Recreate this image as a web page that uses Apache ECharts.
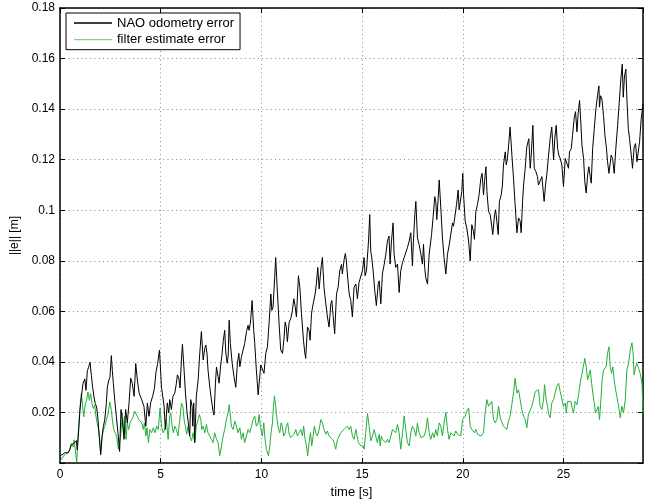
<!DOCTYPE html>
<html>
<head>
<meta charset="utf-8">
<script src="https://cdn.jsdelivr.net/npm/echarts@6/dist/echarts.min.js"></script>
<style>html,body{margin:0;padding:0;background:#fff}#c{width:651px;height:504px}</style>
</head>
<body>
<div id="c"></div>
<script>
// ---- data ----
var seriesNames = ['NAO odometry error', 'filter estimate error'];
var xTicks = [0, 5, 10, 15, 20, 25];
var yTicks = [0.02, 0.04, 0.06, 0.08, 0.1, 0.12, 0.14, 0.16, 0.18];

var naoTime = [0.00,0.10,0.26,0.35,0.40,0.48,0.56,0.65,0.73,0.81,0.86,0.93,0.99,1.06,1.14,1.23,1.29,1.36,1.42,1.49,1.56,1.62,1.69,1.75,1.82,1.89,1.95,2.02,2.09,2.15,2.22,2.30,2.35,2.42,2.48,2.55,2.60,2.65,2.72,2.80,2.88,2.96,
3.03,3.11,3.18,3.26,3.34,3.43,3.51,3.59,3.68,3.76,3.84,3.93,4.06,4.17,4.26,4.34,4.42,4.50,4.60,4.69,4.77,4.85,4.94,
5.04,5.17,5.23,5.33,5.40,5.45,5.53,5.61,5.70,5.78,5.83,5.90,5.96,6.03,6.08,6.16,6.23,6.31,6.39,6.44,6.49,6.56,6.59,6.64,6.69,6.77,6.86,6.94,7.02,7.11,7.19,7.24,7.30,7.35,7.44,7.52,7.60,7.65,7.72,7.77,7.85,7.90,7.97,8.05,8.11,8.18,8.23,8.30,8.35,8.40,8.46,8.55,8.64,8.73,8.81,8.88,8.93,9.01,9.09,9.17,9.26,9.34,9.39,9.46,9.54,9.62,9.67,9.75,9.84,
9.97,10.05,10.13,10.22,10.30,10.38,10.47,10.52,10.58,10.66,10.71,10.80,10.88,10.96,11.05,11.13,11.18,11.24,11.29,11.38,11.46,11.54,11.61,11.67,11.74,11.84,11.91,11.99,12.09,12.15,12.20,12.29,12.37,12.42,12.49,12.54,12.58,12.67,12.73,12.80,12.87,12.92,12.98,13.03,13.11,13.20,13.28,13.36,13.45,13.50,13.56,13.64,13.73,13.81,13.89,13.98,14.02,14.11,14.17,14.22,14.27,14.36,14.44,14.52,14.60,14.69,14.77,14.85,
14.94,15.02,15.10,15.15,15.22,15.32,15.38,15.43,15.48,15.55,15.63,15.71,15.80,15.85,15.93,16.01,16.10,16.18,16.26,16.34,16.39,16.46,16.54,16.59,16.67,16.76,16.84,16.92,17.01,17.09,17.17,17.25,17.34,17.42,17.50,17.55,17.62,17.67,17.75,17.83,17.92,18.00,18.05,18.11,18.16,18.25,18.33,18.38,18.45,18.53,18.61,18.66,18.71,18.78,18.83,18.91,18.99,19.07,19.16,19.24,19.32,19.41,19.49,19.54,19.60,19.69,19.77,19.82,19.89,19.95,20.00,
20.04,20.12,20.20,20.29,20.37,20.45,20.53,20.58,20.65,20.73,20.81,20.90,20.96,21.03,21.08,21.15,21.20,21.28,21.36,21.44,21.49,21.58,21.63,21.69,21.76,21.82,21.91,21.97,22.02,22.11,22.16,22.22,22.29,22.35,22.44,22.52,22.60,22.69,22.77,22.85,22.90,22.97,23.02,23.10,23.18,23.23,23.28,23.35,23.40,23.48,23.55,23.63,23.71,23.76,23.84,23.93,23.98,24.04,24.11,24.18,24.26,24.34,24.42,24.51,24.57,24.64,24.71,24.77,24.84,24.92,25.00,
25.09,25.17,25.25,25.30,25.39,25.45,25.53,25.60,25.67,25.73,25.80,25.87,25.92,26.00,26.06,26.13,26.20,26.26,26.33,26.38,26.45,26.53,26.61,26.69,26.76,26.79,26.84,26.91,26.99,27.06,27.12,27.19,27.26,27.32,27.37,27.44,27.52,27.60,27.69,27.77,27.85,27.92,27.97,28.03,28.10,28.15,28.22,28.28,28.35,28.43,28.51,28.58,28.65,28.71,28.78,28.86,28.95];
var naoErr = [0.0029,0.0033,0.0042,0.0046,0.0040,0.0052,0.0072,0.0078,0.0081,0.0089,0.0052,0.0131,0.0209,0.0261,0.0314,0.0333,0.0288,0.0366,0.0379,0.0399,0.0346,0.0300,0.0261,0.0235,0.0222,0.0170,0.0105,0.0033,0.0105,0.0144,0.0170,0.0235,0.0300,0.0327,0.0340,0.0425,0.0366,0.0314,0.0248,0.0183,0.0118,0.0046,
0.0212,0.0159,0.0094,0.0212,0.0159,0.0238,0.0336,0.0316,0.0264,0.0394,0.0329,0.0277,0.0250,0.0224,0.0146,0.0238,0.0185,0.0238,0.0264,0.0296,0.0362,0.0394,0.0447,
0.0300,0.0225,0.0133,0.0238,0.0198,0.0251,0.0212,0.0264,0.0277,0.0316,0.0349,0.0336,0.0297,0.0408,0.0470,0.0369,0.0277,0.0199,0.0146,0.0107,0.0251,0.0225,0.0146,0.0238,0.0081,0.0264,0.0330,0.0434,0.0520,0.0408,0.0454,0.0467,0.0434,0.0369,0.0300,0.0250,0.0205,0.0190,0.0316,0.0380,0.0342,0.0316,0.0380,0.0434,0.0486,0.0525,0.0440,0.0395,0.0421,0.0565,0.0473,0.0395,0.0342,0.0300,0.0395,0.0434,0.0381,0.0421,0.0428,0.0473,0.0520,0.0545,0.0525,0.0558,0.0643,0.0525,0.0473,0.0369,0.0270,
0.0388,0.0394,0.0355,0.0434,0.0460,0.0551,0.0669,0.0604,0.0617,0.0734,0.0813,0.0669,0.0551,0.0447,0.0434,0.0499,0.0558,0.0538,0.0480,0.0558,0.0571,0.0604,0.0650,0.0624,0.0578,0.0741,0.0695,0.0591,0.0486,0.0440,0.0414,0.0538,0.0525,0.0486,0.0591,0.0617,0.0624,0.0669,0.0708,0.0774,0.0689,0.0735,0.0786,0.0813,0.0695,0.0630,0.0578,0.0538,0.0630,0.0643,0.0584,0.0512,0.0669,0.0695,0.0760,0.0786,0.0748,0.0806,0.0829,0.0800,0.0748,0.0669,0.0643,0.0578,0.0695,0.0708,0.0650,0.0715,
0.0708,0.0761,0.0813,0.0741,0.0761,0.0878,0.0983,0.0839,0.0813,0.0761,0.0682,0.0623,0.0708,0.0721,0.0630,0.0748,0.0787,0.0826,0.0878,0.0898,0.0787,0.0878,0.0950,0.0826,0.0774,0.0787,0.0675,0.0761,0.0794,0.0813,0.0813,0.0852,0.0878,0.0911,0.0780,0.0878,0.0983,0.1035,0.0891,0.0865,0.0826,0.0787,0.0865,0.0774,0.0734,0.0708,0.0826,0.0832,0.0904,0.0976,0.1054,0.1035,0.0963,0.1048,0.1120,0.1009,0.0891,0.0813,0.0748,0.0826,0.0859,0.0859,0.0950,0.0937,0.0970,0.1022,0.1080,0.1002,0.0996,0.1074,0.1146,
0.1061,0.0957,0.0930,0.0878,0.0800,0.0943,0.0917,0.0885,0.0996,0.1022,0.1061,0.1127,0.1146,0.1061,0.1113,0.1172,0.1074,0.0996,0.0983,0.0937,0.0904,0.0983,0.1002,0.0957,0.0904,0.1035,0.1061,0.1100,0.1179,0.1231,0.1179,0.1205,0.1270,0.1329,0.1218,0.1127,0.1022,0.0911,0.0970,0.0957,0.0911,0.1035,0.1100,0.1166,0.1251,0.1244,0.1283,0.1166,0.1218,0.1336,0.1166,0.1153,0.1133,0.1100,0.1107,0.1133,0.1088,0.1035,0.1100,0.1146,0.1218,0.1283,0.1329,0.1199,0.1283,0.1336,0.1244,0.1218,0.1205,0.1179,0.1094,
0.1205,0.1212,0.1166,0.1231,0.1244,0.1296,0.1362,0.1390,0.1310,0.1382,0.1434,0.1336,0.1257,0.1205,0.1113,0.1068,0.1140,0.1172,0.1133,0.1107,0.1244,0.1323,0.1401,0.1453,0.1492,0.1408,0.1453,0.1440,0.1375,0.1296,0.1257,0.1192,0.1146,0.1140,0.1218,0.1205,0.1146,0.1244,0.1336,0.1427,0.1519,0.1578,0.1447,0.1531,0.1558,0.1440,0.1323,0.1284,0.1231,0.1166,0.1250,0.1264,0.1192,0.1199,0.1271,0.1362,0.1420];

var filtTime = [0.00,0.10,0.23,0.36,0.48,0.56,0.65,0.70,0.76,0.83,0.89,0.96,1.01,1.06,1.11,1.18,1.26,1.32,1.39,1.46,1.52,1.59,1.66,1.72,1.79,1.85,1.92,1.97,2.02,2.09,2.15,2.22,2.30,2.39,2.47,2.55,2.62,2.68,2.75,2.81,2.90,
3.01,3.10,3.15,3.21,3.28,3.34,3.41,3.48,3.56,3.64,3.71,3.78,3.84,3.91,3.97,4.06,4.14,4.19,4.26,4.32,4.39,4.47,4.55,4.64,4.72,4.80,4.88,4.97,
5.04,5.12,5.20,5.28,5.37,5.45,5.50,5.57,5.63,5.70,5.78,5.86,5.95,6.03,6.10,6.16,6.23,6.29,6.36,6.44,6.53,6.61,6.69,6.77,6.86,6.92,6.99,7.04,7.11,7.19,7.27,7.35,7.44,7.52,7.60,7.68,7.77,7.85,7.93,8.02,8.10,8.18,8.26,8.35,8.40,8.45,8.51,8.60,8.68,8.76,8.84,8.93,9.01,9.09,9.17,9.26,9.34,9.42,9.51,9.59,9.67,9.75,9.84,9.89,9.95,
10.05,10.12,10.18,10.25,10.35,10.42,10.48,10.55,10.60,10.65,10.71,10.78,10.85,10.91,10.98,11.04,11.11,11.18,11.24,11.31,11.38,11.46,11.54,11.62,11.71,11.79,11.87,11.96,12.04,12.10,12.17,12.24,12.30,12.37,12.44,12.50,12.57,12.63,12.70,12.78,12.87,12.95,13.03,13.11,13.20,13.28,13.36,13.45,13.53,13.61,13.69,13.78,13.86,13.94,14.02,14.11,14.19,14.27,14.36,14.44,14.52,14.60,14.69,14.75,14.82,14.94,15.05,
15.10,15.18,15.27,15.35,15.43,15.52,15.60,15.68,15.76,15.85,15.90,15.96,16.01,16.10,16.18,16.26,16.34,16.43,16.51,16.59,16.67,16.76,16.84,16.92,17.01,17.09,17.17,17.25,17.34,17.42,17.50,17.59,17.67,17.75,17.83,17.92,18.00,18.08,18.16,18.25,18.33,18.41,18.50,18.58,18.66,18.74,18.83,18.91,18.99,19.07,19.16,19.24,19.32,19.41,19.49,19.57,19.65,19.74,19.82,19.90,19.99,
20.04,20.12,20.20,20.29,20.37,20.45,20.53,20.58,20.65,20.73,20.81,20.90,20.96,21.03,21.11,21.20,21.28,21.36,21.44,21.53,21.61,21.69,21.78,21.86,21.94,22.02,22.11,22.19,22.27,22.35,22.44,22.52,22.60,22.69,22.77,22.85,22.93,23.02,23.10,23.18,23.26,23.35,23.43,23.51,23.60,23.68,23.76,23.84,23.93,24.01,24.06,24.14,24.21,24.27,24.34,24.42,24.51,24.59,24.67,24.76,24.84,24.92,25.00,
25.09,25.14,25.20,25.29,25.37,25.45,25.50,25.58,25.67,25.75,25.83,25.92,26.00,26.06,26.13,26.20,26.26,26.33,26.40,26.46,26.53,26.59,26.66,26.73,26.79,26.86,26.92,26.99,27.06,27.12,27.19,27.26,27.32,27.39,27.45,27.52,27.59,27.65,27.74,27.82,27.90,27.98,28.07,28.15,28.23,28.32,28.40,28.46,28.51,28.58,28.65,28.73,28.81,28.90,28.95];
var filtErr = [0.0007,0.0020,0.0033,0.0039,0.0052,0.0078,0.0065,0.0092,0.0052,0.0003,0.0105,0.0183,0.0235,0.0275,0.0281,0.0183,0.0235,0.0248,0.0281,0.0248,0.0275,0.0235,0.0216,0.0229,0.0183,0.0157,0.0131,0.0092,0.0039,0.0105,0.0131,0.0144,0.0170,0.0196,0.0242,0.0209,0.0157,0.0131,0.0118,0.0105,0.0055,
0.0107,0.0199,0.0120,0.0185,0.0094,0.0159,0.0133,0.0159,0.0172,0.0185,0.0205,0.0199,0.0185,0.0172,0.0179,0.0159,0.0133,0.0159,0.0107,0.0140,0.0081,0.0133,0.0120,0.0140,0.0120,0.0146,0.0133,0.0218,
0.0146,0.0120,0.0133,0.0173,0.0094,0.0186,0.0199,0.0146,0.0120,0.0146,0.0133,0.0107,0.0173,0.0238,0.0225,0.0173,0.0146,0.0114,0.0146,0.0107,0.0088,0.0120,0.0081,0.0146,0.0173,0.0192,0.0173,0.0133,0.0146,0.0120,0.0153,0.0120,0.0114,0.0094,0.0081,0.0120,0.0094,0.0081,0.0029,0.0068,0.0107,0.0133,0.0173,0.0199,0.0231,0.0199,0.0146,0.0133,0.0166,0.0146,0.0120,0.0140,0.0094,0.0120,0.0081,0.0107,0.0133,0.0120,0.0146,0.0173,0.0186,0.0146,0.0159,0.0192,0.0146,
0.0107,0.0159,0.0094,0.0055,0.0029,0.0068,0.0120,0.0159,0.0225,0.0266,0.0225,0.0172,0.0133,0.0120,0.0159,0.0146,0.0107,0.0120,0.0146,0.0159,0.0114,0.0101,0.0107,0.0114,0.0133,0.0107,0.0120,0.0133,0.0107,0.0146,0.0094,0.0068,0.0029,0.0081,0.0120,0.0068,0.0107,0.0146,0.0120,0.0107,0.0133,0.0172,0.0159,0.0133,0.0114,0.0127,0.0107,0.0114,0.0094,0.0081,0.0055,0.0094,0.0107,0.0120,0.0114,0.0133,0.0140,0.0146,0.0133,0.0146,0.0107,0.0094,0.0133,0.0140,0.0081,0.0068,0.0068,
0.0055,0.0120,0.0196,0.0146,0.0088,0.0107,0.0133,0.0107,0.0081,0.0114,0.0068,0.0107,0.0094,0.0101,0.0081,0.0094,0.0081,0.0107,0.0133,0.0140,0.0120,0.0153,0.0120,0.0055,0.0120,0.0186,0.0133,0.0081,0.0068,0.0120,0.0146,0.0133,0.0107,0.0159,0.0120,0.0101,0.0094,0.0107,0.0127,0.0179,0.0120,0.0094,0.0120,0.0101,0.0133,0.0107,0.0159,0.0146,0.0107,0.0159,0.0201,0.0133,0.0094,0.0120,0.0120,0.0107,0.0127,0.0114,0.0120,0.0107,0.0172,
0.0179,0.0185,0.0205,0.0218,0.0146,0.0133,0.0140,0.0120,0.0133,0.0114,0.0114,0.0107,0.0107,0.0120,0.0199,0.0251,0.0225,0.0231,0.0244,0.0172,0.0159,0.0172,0.0225,0.0179,0.0172,0.0146,0.0146,0.0133,0.0166,0.0185,0.0192,0.0277,0.0336,0.0277,0.0290,0.0251,0.0212,0.0185,0.0172,0.0140,0.0192,0.0199,0.0225,0.0251,0.0283,0.0283,0.0290,0.0225,0.0212,0.0251,0.0310,0.0251,0.0225,0.0192,0.0179,0.0238,0.0251,0.0277,0.0303,0.0316,0.0283,0.0277,0.0224,
0.0237,0.0198,0.0244,0.0251,0.0244,0.0211,0.0198,0.0244,0.0231,0.0270,0.0316,0.0323,0.0388,0.0414,0.0381,0.0329,0.0336,0.0368,0.0316,0.0277,0.0238,0.0198,0.0192,0.0224,0.0172,0.0251,0.0329,0.0368,0.0362,0.0381,0.0434,0.0460,0.0381,0.0355,0.0381,0.0329,0.0290,0.0264,0.0225,0.0179,0.0225,0.0198,0.0251,0.0368,0.0394,0.0447,0.0476,0.0434,0.0349,0.0381,0.0394,0.0375,0.0355,0.0316,0.0198];

function zip(xs, ys) { var out = []; for (var i = 0; i < xs.length && i < ys.length; i++) out.push([xs[i], ys[i]]); return out; }

var X_MAX = 28.95, Y_MAX = 0.18;
var FONT = 'Liberation Sans, Arial, Helvetica, sans-serif';
var NAO_COLOR = '#000000', FILT_COLOR = '#22b03a';
var gridLine = { show: true, lineStyle: { color: '#8a8a8a', width: 1, type: [1, 3.3] } };
var frameLine = { show: true, onZero: false, lineStyle: { color: '#000', width: 1.5 } };
var tickIn = { show: true, inside: true, length: 5, lineStyle: { color: '#000', width: 1 } };

var chart = echarts.init(document.getElementById('c'), null, { renderer: 'canvas' });
chart.setOption({
  animation: false,
  backgroundColor: '#fff',
  textStyle: { fontFamily: FONT },
  grid: { left: 60, right: 8, top: 8, bottom: 37, containLabel: false },
  legend: {
    show: true,
    data: [
      { name: seriesNames[0], icon: 'rect', itemStyle: { color: NAO_COLOR } },
      { name: seriesNames[1], icon: 'rect', itemStyle: { color: '#7fd48e' } }
    ],
    orient: 'vertical',
    left: 66, top: 13,
    padding: [3, 6, 3, 8],
    itemWidth: 38, itemHeight: 1.3, itemGap: 2.7,
    borderColor: '#000', borderWidth: 1,
    backgroundColor: '#fff',
    textStyle: { fontSize: 13, color: '#000', fontFamily: FONT, lineHeight: 14 },
    selectedMode: false
  },
  xAxis: [{
    type: 'value', min: 0, max: X_MAX, interval: 5,
    name: 'time [s]', nameLocation: 'middle', nameGap: 20,
    nameTextStyle: { fontSize: 13, color: '#000', fontFamily: FONT },
    axisLine: frameLine, axisTick: tickIn, splitLine: gridLine,
    axisLabel: { color: '#000', fontSize: 12, margin: 6, showMaxLabel: false,
      formatter: function (v) { return xTicks.indexOf(Math.round(v * 100) / 100) >= 0 ? String(v) : ''; } }
  }, {
    type: 'value', min: 0, max: X_MAX, interval: 5, position: 'top',
    axisLine: frameLine, axisTick: tickIn, splitLine: { show: false }, axisLabel: { show: false }
  }],
  yAxis: [{
    type: 'value', min: 0, max: Y_MAX, interval: 0.02,
    name: '||e|| [m]', nameLocation: 'middle', nameGap: 38, nameRotate: 90,
    nameTextStyle: { fontSize: 12, color: '#000', fontFamily: FONT },
    axisLine: frameLine, axisTick: tickIn, splitLine: gridLine,
    axisLabel: { color: '#000', fontSize: 12, margin: 5,
      formatter: function (v) {
        var r = Math.round(v * 1000) / 1000;
        for (var i = 0; i < yTicks.length; i++) if (Math.abs(yTicks[i] - r) < 1e-9) return String(yTicks[i]);
        return '';
      } }
  }, {
    type: 'value', min: 0, max: Y_MAX, interval: 0.02, position: 'right',
    axisLine: frameLine, axisTick: tickIn, splitLine: { show: false }, axisLabel: { show: false }
  }],
  series: [{
    name: seriesNames[0], type: 'line', xAxisIndex: 0, yAxisIndex: 0,
    data: zip(naoTime, naoErr), symbol: 'none', showSymbol: false,
    lineStyle: { color: NAO_COLOR, width: 1 }, itemStyle: { color: NAO_COLOR }, z: 3
  }, {
    name: seriesNames[1], type: 'line', xAxisIndex: 0, yAxisIndex: 0,
    data: zip(filtTime, filtErr), symbol: 'none', showSymbol: false,
    lineStyle: { color: FILT_COLOR, width: 1 }, itemStyle: { color: FILT_COLOR }, z: 2
  }]
});
</script>
</body>
</html>
